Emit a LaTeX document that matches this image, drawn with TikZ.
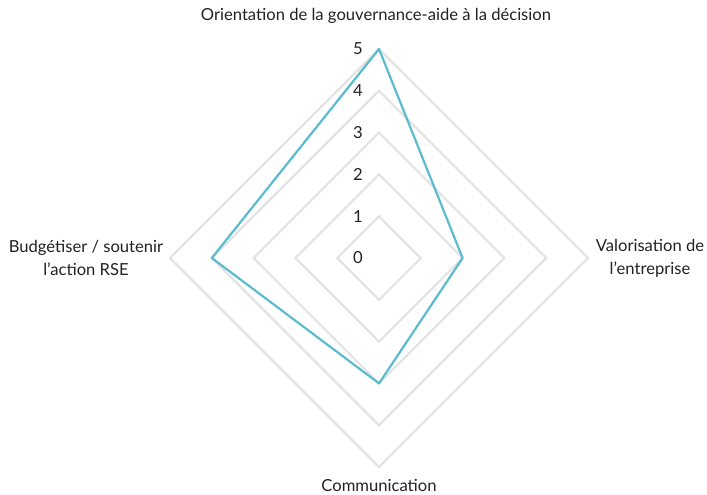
\documentclass[tikz,border=0pt]{standalone}
\usepackage{fontspec}
\setmainfont{Lato}
\definecolor{gridc}{HTML}{E3E3E3}
\definecolor{datac}{HTML}{5BBCCF}
\definecolor{txt}{HTML}{222222}
\begin{document}
\begin{tikzpicture}[x=1pt,y=-1pt,
  gridline/.style={draw=gridc,line width=2.2pt,line join=miter},
  dataline/.style={draw=datac,line width=2.2pt,line join=round},
  lab/.style={font=\fontsize{16.6}{23}\selectfont,text=txt,align=center,inner sep=0pt},
  num/.style={font=\fontsize{16.6}{18}\selectfont,text=txt,anchor=east,inner sep=0pt}]
\useasboundingbox (0,0) rectangle (707,495);
\def\cx{379}\def\cy{258}\def\u{41.8}
\coordinate (c) at (\cx,\cy);
\foreach \k in {1,...,5}{
  \draw[gridline] (\cx,\cy-\k*\u) -- (\cx+\k*\u,\cy) -- (\cx,\cy+\k*\u) -- (\cx-\k*\u,\cy) -- cycle;
}
\foreach \k in {0,...,5}{
  \node[num] (n\k) at (363,\cy-\k*\u) {\k};
}
\coordinate (p1) at (\cx,\cy-5*\u);
\coordinate (p2) at (\cx+2*\u,\cy);
\coordinate (p3) at (\cx,\cy+3*\u);
\coordinate (p4) at (\cx-4*\u,\cy);
\draw[dataline] (p1) -- (p2) -- (p3) -- (p4) -- cycle;
\node[lab] (t) at (376,16) {Orientation de la gouvernance-aide à la décision};
\node[lab] (r) at (650,258) {Valorisation de\\l’entreprise};
\node[lab] (l) at (86,258) {Budgétiser / soutenir\\l’action RSE};
\node[lab] (b) at (379,485.5) {Communication};
\end{tikzpicture}
\end{document}
